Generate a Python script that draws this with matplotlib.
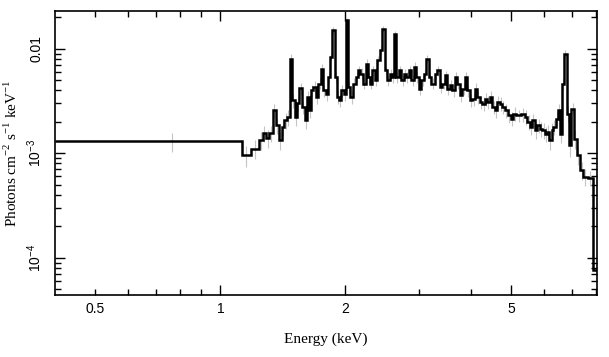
import matplotlib
matplotlib.use("Agg")
import matplotlib.pyplot as plt
from matplotlib.ticker import FixedLocator, FixedFormatter, NullFormatter
import numpy as np

# bin edges in keV
edges = [
    0.400, 1.126, 1.185, 1.242, 1.265, 1.288, 1.312, 1.337, 1.362, 1.380, 1.405,
    1.426, 1.448, 1.467, 1.486, 1.508, 1.527, 1.550, 1.570, 1.594,
    1.615, 1.633, 1.654, 1.675, 1.700, 1.722, 1.742, 1.764, 1.791, 1.814,
    1.838, 1.858, 1.882, 1.907, 1.928, 1.953, 1.979, 2.001, 2.027, 2.053,
    2.084, 2.115, 2.142, 2.170, 2.203, 2.236, 2.265, 2.286,
    2.316, 2.350, 2.385, 2.416, 2.448, 2.484, 2.517, 2.554, 2.587, 2.616,
    2.650, 2.685, 2.725, 2.765, 2.802, 2.838, 2.880, 2.923, 2.961, 3.000,
    3.045, 3.090, 3.130, 3.171, 3.219, 3.279,
    3.321, 3.371, 3.421, 3.466, 3.511, 3.563, 3.616, 3.663, 3.711, 3.766,
    3.822, 3.872, 3.923, 3.981, 4.041, 4.093, 4.146, 4.208, 4.271, 4.327,
    4.383, 4.448, 4.515, 4.574, 4.633, 4.702,
    4.763, 4.834, 4.925, 4.998, 5.063, 5.158, 5.303, 5.402, 5.482, 5.554,
    5.626, 5.710, 5.795, 5.871, 5.947, 6.036, 6.114, 6.183, 6.263, 6.321,
    6.404, 6.475, 6.560, 6.645,
    6.719, 6.807, 6.895, 6.972, 7.102, 7.195, 7.329, 7.466, 7.648, 7.892, 8.200,
]

# flux in units of 1e-3 photons cm^-2 s^-1 keV^-1
flux_e3 = [
    1.30, 0.957, 1.11, 1.33, 1.55, 1.39, 1.55, 2.58, 1.85, 1.33,
    1.79, 2.07, 2.22, 8.05, 3.21, 2.22, 3.01, 4.19, 2.77,
    2.07, 3.46, 2.58, 4.01, 4.31, 3.46, 4.65, 6.46, 4.01, 3.72,
    5.37, 8.35, 15.0, 5.37, 3.46, 3.21, 4.01, 3.72, 18.7, 4.31,
    3.46, 4.65, 5.37, 6.22, 5.79, 4.65, 7.21, 5.37,
    4.65, 6.22, 4.99, 7.76, 9.67, 15.6, 6.22, 4.99, 5.79, 5.37,
    14.0, 5.37, 6.22, 4.99, 5.79, 5.37, 6.22, 4.99, 6.70, 5.37,
    4.16, 4.99, 5.79, 8.05, 5.37, 4.65,
    5.79, 6.22, 4.31, 4.65, 5.57, 4.16, 4.48, 4.01, 5.37, 4.65,
    3.59, 4.16, 5.37, 4.01, 3.21, 3.33, 4.16, 3.46, 3.10, 2.99,
    3.33, 3.10, 3.46, 2.77, 2.58, 3.10,
    2.99, 2.77, 2.58, 2.31, 2.15, 2.40, 2.31, 2.36, 2.22, 1.99,
    1.79, 2.07, 1.66, 1.85, 1.72, 1.66, 1.54, 1.60, 1.33, 1.66,
    1.79, 2.15, 2.58, 1.54,
    4.65, 9.00, 2.40, 1.19, 2.68, 1.38, 0.957, 0.688, 0.593, 0.585, 0.0771,
]

# relative 1-sigma error of each bin
rel_err = [
    0.20, 0.22, 0.20, 0.20, 0.18, 0.20, 0.18, 0.15, 0.18, 0.20,
    0.18, 0.17, 0.17, 0.10, 0.15, 0.17, 0.15, 0.13, 0.15,
    0.17, 0.14, 0.15, 0.13, 0.13, 0.14, 0.12, 0.10, 0.13, 0.14,
    0.12, 0.09, 0.07, 0.12, 0.14, 0.14, 0.13, 0.14, 0.06, 0.13,
    0.14, 0.12, 0.12, 0.11, 0.12, 0.12, 0.10, 0.12,
    0.12, 0.11, 0.12, 0.10, 0.09, 0.07, 0.11, 0.12, 0.11, 0.12,
    0.07, 0.12, 0.11, 0.12, 0.11, 0.12, 0.11, 0.12, 0.11, 0.12,
    0.13, 0.12, 0.11, 0.09, 0.12, 0.12,
    0.11, 0.11, 0.13, 0.12, 0.11, 0.13, 0.12, 0.13, 0.11, 0.12,
    0.14, 0.13, 0.11, 0.13, 0.14, 0.14, 0.13, 0.14, 0.14, 0.15,
    0.14, 0.14, 0.14, 0.15, 0.16, 0.14,
    0.15, 0.15, 0.15, 0.15, 0.16, 0.15, 0.13, 0.15, 0.16, 0.16,
    0.17, 0.16, 0.17, 0.16, 0.17, 0.17, 0.17, 0.17, 0.19, 0.17,
    0.17, 0.15, 0.14, 0.18,
    0.13, 0.09, 0.17, 0.22, 0.14, 0.20, 0.20, 0.20, 0.18, 0.16, 0.40,
]

edges = np.array(edges)
flux = np.array(flux_e3) * 1e-3
err = flux * np.array(rel_err)
centers = 0.5 * (edges[:-1] + edges[1:])

plt.rcParams["mathtext.fontset"] = "custom"
plt.rcParams["mathtext.rm"] = "Liberation Serif"
plt.rcParams["mathtext.sf"] = "Liberation Sans"
plt.rcParams["font.family"] = ["Liberation Sans", "DejaVu Sans"]

fig = plt.figure(figsize=(6.09, 3.57), dpi=100)
ax = fig.add_axes([0.0903, 0.1737, 0.8897, 0.7953])

ax.errorbar(centers, flux, yerr=err, fmt="none", ecolor="#c4c4c4",
            elinewidth=0.8, capsize=0, zorder=1)
ax.stairs(flux, edges, baseline=None, color="black", linewidth=1.8, zorder=2)

ax.set_xscale("log")
ax.set_yscale("log")
ax.set_xlim(0.4, 8.05)
ax.set_ylim(4.4e-5, 0.023)

# x ticks
ax.xaxis.set_major_locator(FixedLocator([1, 2, 5]))
ax.xaxis.set_major_formatter(FixedFormatter(["1", "2", "5"]))
xminor = [0.5, 0.6, 0.7, 0.8, 0.9, 3, 4, 6, 7, 8]
ax.xaxis.set_minor_locator(FixedLocator(xminor))
ax.xaxis.set_minor_formatter(FixedFormatter(["0.5"] + [""] * 9))

# y ticks
ax.yaxis.set_major_locator(FixedLocator([1e-4, 1e-3, 1e-2]))
ax.yaxis.set_major_formatter(FixedFormatter(
    [r"$\mathsf{10^{-4}}$", r"$\mathsf{10^{-3}}$", "0.01"]))
yminor = [m * 10.0 ** d for d in (-5, -4, -3, -2) for m in range(2, 10)]
ax.yaxis.set_minor_locator(FixedLocator(yminor))
ax.yaxis.set_minor_formatter(NullFormatter())

ax.tick_params(which="both", direction="in", top=True, right=True,
               width=1.0, colors="black", labelsize=10)
ax.tick_params(which="major", length=7)
ax.tick_params(which="minor", length=4)
ax.tick_params(axis="x", which="both", pad=5)
ax.tick_params(axis="y", which="both", pad=8)
for lab in ax.get_yticklabels():
    lab.set_rotation(90)
    lab.set_va("center")

for s in ax.spines.values():
    s.set_linewidth(1.2)

ax.set_xlabel("Energy (keV)", family="Liberation Serif", fontsize=11, labelpad=12)
ax.set_ylabel(r"Photons cm$^{-2}$ s$^{-1}$ keV$^{-1}$", family="Liberation Serif",
              fontsize=11, labelpad=4)

fig.savefig("out.png", dpi=100)
